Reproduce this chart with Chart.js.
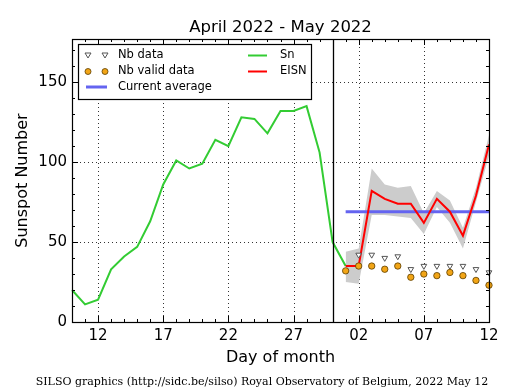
<!DOCTYPE html>
<html><head><meta charset="utf-8">
<script src="https://cdn.jsdelivr.net/npm/chart.js@4/dist/chart.umd.min.js"></script>
<style>html,body{margin:0;padding:0;background:#fff;}#wrap{width:515px;height:390px;position:relative;}</style>
</head><body><div id="wrap"><canvas id="c" width="515" height="390"></canvas></div>
<script>
// ---- data ----
const days = ['10','11','12','13','14','15','16','17','18','19','20','21','22','23','24','25','26','27','28','29','30',
              '01','02','03','04','05','06','07','08','09','10','11','12'];
const xTickIndex = [2, 7, 12, 17, 22, 27, 32];
const xTickLabels = ['12','17','22','27','02','07','12'];
const yTicks = [0, 50, 100, 150];
const monthBoundaryIndex = 20;   // April 30
const mayStart = 21;              // May 01
// Sn: April 10 .. May 01
const sn = [20, 11, 14, 33, 41, 47, 63, 86, 101, 96, 99, 114, 110, 128, 127, 118, 132, 132, 135, 106, 50, 35];
// May 01 .. May 12
const eisn      = [35, 35, 82, 77, 74, 74, 62, 77, 69, 54, 79, 111];
const eisnLow   = [25, 24, 67, 67, 66, 65, 55, 72, 62, 46, 75, 104];
const eisnHigh  = [44, 46, 96, 86, 84, 85, 68, 82, 76, 59, 84, 117];
const nbData    = [null, 42, 42, 40, 41, 33, 35, 35, 35, 35, 33, 31];
const nbValid   = [32, 35, 35, 33, 35, 28, 30, 29, 31, 29, 26, 23];
const currentAverage = 69;

const fromMay = arr => days.map((d, i) => i >= mayStart ? arr[i - mayStart] : null);
const snFull = days.map((d, i) => i < sn.length ? sn[i] : null);
const avgFull = days.map((d, i) => i >= mayStart ? currentAverage : null);

const GREEN = '#33cc33', RED = '#ff0000', BLUE = '#6464f0', GRAY = '#cccccc', ORANGE = '#f2a516', TRI = '#555555';

const decor = {
  id: 'decor',
  beforeDatasetsDraw(chart) {
    const {ctx, chartArea: a, scales: {x, y}} = chart;
    ctx.save();
    ctx.strokeStyle = '#000'; ctx.lineWidth = 0.8; ctx.setLineDash([1, 3]);
    xTickIndex.forEach(i => { const px = Math.round(x.getPixelForValue(i)) + 0.5;
      ctx.beginPath(); ctx.moveTo(px, a.top); ctx.lineTo(px, a.bottom); ctx.stroke(); });
    yTicks.forEach(v => { const py = Math.round(y.getPixelForValue(v)) + 0.5;
      ctx.beginPath(); ctx.moveTo(a.left, py); ctx.lineTo(a.right, py); ctx.stroke(); });
    ctx.restore();
  },
  afterDatasetsDraw(chart) {
    const {ctx, chartArea: a, scales: {x, y}} = chart;
    ctx.save();
    // month boundary
    const bx = Math.round(x.getPixelForValue(monthBoundaryIndex)) + 0.5;
    ctx.strokeStyle = '#000'; ctx.lineWidth = 1.3;
    ctx.beginPath(); ctx.moveTo(bx, a.top); ctx.lineTo(bx, a.bottom); ctx.stroke();
    // frame
    ctx.lineWidth = 1.2;
    ctx.strokeRect(a.left + 0.5, a.top + 0.5, a.right - a.left, a.bottom - a.top);
    // ticks inward
    ctx.lineWidth = 1;
    const tick = (x1, y1, x2, y2) => { ctx.beginPath(); ctx.moveTo(x1, y1); ctx.lineTo(x2, y2); ctx.stroke(); };
    days.forEach((d, i) => {
      const px = Math.round(x.getPixelForValue(i)) + 0.5;
      const L = xTickIndex.includes(i) ? 6 : 3;
      tick(px, a.bottom, px, a.bottom - L); tick(px, a.top, px, a.top + L);
    });
    for (let v = 0; v <= y.max; v += 10) {
      const py = Math.round(y.getPixelForValue(v)) + 0.5;
      const L = v % 50 === 0 ? 6 : 3;
      tick(a.left, py, a.left + L, py); tick(a.right, py, a.right - L, py);
    }
    // legend
    const lx = 78, ly = 44, lw = 233, lh = 55;
    ctx.fillStyle = '#fff'; ctx.fillRect(lx, ly, lw, lh);
    ctx.strokeStyle = '#000'; ctx.lineWidth = 1.2; ctx.strokeRect(lx + 0.5, ly + 0.5, lw, lh);
    ctx.font = '11.5px "DejaVu Sans"'; ctx.textBaseline = 'middle'; ctx.fillStyle = '#000';
    const r1 = 55.5, r2 = 71.5, r3 = 87;
    const triDown = (cx, cy) => { ctx.beginPath(); ctx.moveTo(cx - 3, cy - 2.5); ctx.lineTo(cx + 3, cy - 2.5); ctx.lineTo(cx, cy + 2.5); ctx.closePath();
      ctx.fillStyle = '#fff'; ctx.fill(); ctx.strokeStyle = TRI; ctx.lineWidth = 1; ctx.stroke(); };
    const dot = (cx, cy) => { ctx.beginPath(); ctx.arc(cx, cy, 3, 0, Math.PI * 2); ctx.fillStyle = ORANGE; ctx.fill();
      ctx.strokeStyle = '#5a3c00'; ctx.lineWidth = 0.8; ctx.stroke(); };
    triDown(88, r1); triDown(105, r1);
    dot(88, r2); dot(105, r2);
    ctx.strokeStyle = BLUE; ctx.lineWidth = 3; tick(86, r3, 107, r3);
    ctx.strokeStyle = GREEN; ctx.lineWidth = 2; tick(248, r1, 267, r1);
    ctx.strokeStyle = RED; ctx.lineWidth = 2; tick(248, r2, 267, r2);
    ctx.fillStyle = '#000';
    ctx.fillText('Nb data', 118, r1);
    ctx.fillText('Nb valid data', 118, r2);
    ctx.fillText('Current average', 118, r3);
    ctx.fillText('Sn', 280, r1);
    ctx.fillText('EISN', 280, r2);
    ctx.restore();
  },
  afterDraw(chart) {
    const {ctx, chartArea: a} = chart;
    const cx = (a.left + a.right) / 2;
    ctx.save();
    ctx.fillStyle = '#000'; ctx.textAlign = 'center'; ctx.textBaseline = 'alphabetic';
    ctx.font = '16.5px "DejaVu Sans"';
    ctx.fillText('April 2022 - May 2022', cx, 32);
    ctx.font = '16px "DejaVu Sans"';
    ctx.fillText('Day of month', cx, 362);
    ctx.save(); ctx.translate(27, (a.top + a.bottom) / 2); ctx.rotate(-Math.PI / 2);
    ctx.fillText('Sunspot Number', 0, 0); ctx.restore();
    ctx.font = '11px "DejaVu Serif"';
    ctx.fillText('SILSO graphics (http://sidc.be/silso) Royal Observatory of Belgium, 2022 May 12', 262, 385);
    ctx.restore();
  }
};

new Chart(document.getElementById('c'), {
  type: 'line',
  data: {
    labels: days,
    datasets: [
      { label: 'Nb valid data', data: fromMay(nbValid), showLine: false, pointStyle: 'circle', pointRadius: 3.2,
        pointBackgroundColor: ORANGE, pointBorderColor: '#5a3c00', pointBorderWidth: 0.8 },
      { label: 'Nb data', data: fromMay(nbData), showLine: false, pointStyle: 'triangle', pointRotation: 180, pointRadius: 3.3,
        pointBackgroundColor: '#fff', pointBorderColor: TRI, pointBorderWidth: 1 },
      { label: 'EISN', data: fromMay(eisn), borderColor: RED, borderWidth: 2, pointRadius: 0, fill: false },
      { label: 'Sn', data: snFull, borderColor: GREEN, borderWidth: 2, pointRadius: 0, fill: false },
      { label: 'Current average', data: avgFull, borderColor: BLUE, borderWidth: 3, pointRadius: 0, fill: false },
      { label: 'EISN high', data: fromMay(eisnHigh), borderWidth: 0, borderColor: 'rgba(0,0,0,0)', pointRadius: 0,
        backgroundColor: GRAY, fill: '+1' },
      { label: 'EISN low', data: fromMay(eisnLow), borderWidth: 0, borderColor: 'rgba(0,0,0,0)', pointRadius: 0, fill: false }
    ]
  },
  options: {
    responsive: false, animation: false, devicePixelRatio: 1,
    layout: { padding: { top: 39, right: 26, left: 0, bottom: 0 } },
    plugins: { legend: { display: false }, title: { display: false }, tooltip: { enabled: false } },
    elements: { line: { tension: 0 } },
    scales: {
      x: {
        type: 'category', offset: false,
        grid: { display: false, drawTicks: false }, border: { display: false },
        afterBuildTicks: s => { s.ticks = xTickIndex.map(v => ({ value: v })); },
        afterFit: s => { s.height = 68; },
        ticks: { autoSkip: false, maxRotation: 0, padding: 5, color: '#000',
          font: { family: 'DejaVu Sans', size: 15 }, callback: (v, i) => xTickLabels[i] }
      },
      y: {
        min: 0, max: 177,
        grid: { display: false, drawTicks: false }, border: { display: false },
        afterBuildTicks: s => { s.ticks = yTicks.map(v => ({ value: v })); },
        afterFit: s => { s.width = 72; },
        ticks: { padding: 5, color: '#000', font: { family: 'DejaVu Sans', size: 15 } }
      }
    }
  },
  plugins: [decor]
});
</script></body></html>
